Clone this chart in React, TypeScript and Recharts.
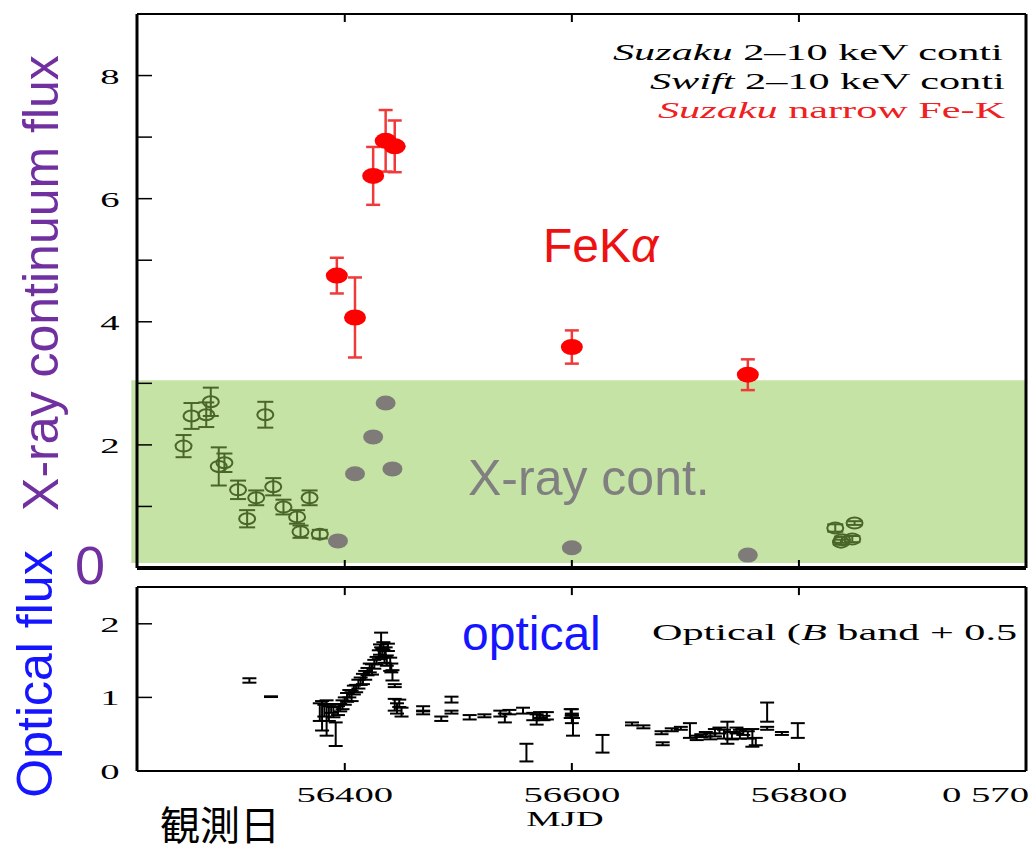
import React from 'react';
import {
  ScatterChart,
  Scatter,
  XAxis,
  YAxis,
  ErrorBar,
  ReferenceArea,
  ReferenceLine,
} from 'recharts';

// time axis (MJD)
const MJD_MIN = 56217;
const MJD_MAX = 57000;
const mjdTicks = [56400, 56600, 56800];

// X-ray panel y axis
const xrayTicks = [1, 2, 3, 4, 5, 6, 7, 8];
const xrayLabels = [2, 4, 6, 8];
// optical panel y axis
const opticalTicks = [0, 1, 2];

// Suzaku narrow Fe-K alpha line
const feMjd = [56393, 56409, 56425, 56436, 56444, 56600, 56755];
const feFlux = [4.75, 4.07, 6.37, 6.94, 6.85, 3.59, 3.14];
const feErr = [0.29, 0.65, 0.47, 0.5, 0.42, 0.27, 0.25];

// Suzaku 2-10 keV continuum
const suzakuMjd = [56394, 56409, 56425, 56436, 56442, 56600, 56755];
const suzakuFlux = [0.44, 1.53, 2.13, 2.68, 1.61, 0.33, 0.21];

// Swift 2-10 keV continuum
const swiftMjd = [
  56258, 56265, 56278, 56282, 56289, 56294, 56306, 56314, 56322, 56330, 56337,
  56346, 56358, 56361, 56369, 56378, 56832, 56837, 56838, 56847, 56849,
];
const swiftFlux = [
  1.98, 2.47, 2.49, 2.7, 1.65, 1.71, 1.27, 0.8, 1.14, 2.49, 1.32, 0.99, 0.83,
  0.59, 1.14, 0.55, 0.65, 0.42, 0.46, 0.47, 0.73,
];
const swiftErr = [
  0.18, 0.21, 0.2, 0.23, 0.31, 0.15, 0.15, 0.14, 0.12, 0.21, 0.14, 0.12, 0.11,
  0.1, 0.12, 0.07, 0.06, 0.04, 0.05, 0.05, 0.03,
];

// optical B band (+0.5)
const opticalMjd = [
  56316, 56335, 56378, 56380, 56382, 56384, 56386, 56388, 56390, 56392, 56394,
  56396, 56398, 56400, 56402, 56404, 56406, 56408, 56410, 56412, 56414, 56416,
  56418, 56420, 56422, 56424, 56426, 56428, 56430, 56431, 56432, 56433, 56434,
  56435, 56436, 56437, 56438, 56440, 56441, 56442, 56444, 56444, 56446, 56448,
  56450, 56469, 56469, 56485, 56494, 56494, 56510, 56523, 56537, 56541, 56545,
  56557, 56560, 56566, 56569, 56572, 56575, 56578, 56599, 56600, 56600, 56601,
  56600, 56627, 56653, 56663, 56679, 56680, 56688, 56696, 56704, 56710, 56714,
  56718, 56722, 56726, 56730, 56734, 56737, 56741, 56745, 56748, 56751, 56755,
  56759, 56762, 56772, 56772, 56785, 56799,
];
const opticalFlux = [
  1.23, 1.01, 0.8, 0.75, 0.82, 0.72, 0.78, 0.85, 0.8, 0.5, 0.82,
  0.86, 0.9, 0.95, 1.0, 1.05, 1.02, 1.1, 1.12, 1.18, 1.22, 1.25,
  1.3, 1.35, 1.4, 1.38, 1.45, 1.5, 1.58, 1.65, 1.78, 1.6, 1.7,
  1.55, 1.62, 1.5, 1.68, 1.45, 1.4, 1.3, 1.16, 0.9, 0.85, 0.92,
  0.8, 0.85, 0.79, 0.71, 0.97, 0.8, 0.73, 0.75, 0.78, 0.72, 0.8,
  0.82, 0.25, 0.74, 0.7, 0.76, 0.72, 0.75, 0.78, 0.8, 0.7, 0.6,
  0.75, 0.37, 0.64, 0.6, 0.52, 0.37, 0.56, 0.58, 0.55, 0.45, 0.48,
  0.5, 0.47, 0.52, 0.55, 0.5, 0.52, 0.48, 0.55, 0.5, 0.53, 0.49,
  0.45, 0.4, 0.8, 0.58, 0.51, 0.55,
];
const opticalErr = [
  0.03, 0.005, 0.12, 0.2, 0.08, 0.24, 0.1, 0.06, 0.07, 0.16, 0.06,
  0.05, 0.06, 0.05, 0.06, 0.05, 0.07, 0.06, 0.05, 0.06, 0.05, 0.07,
  0.06, 0.05, 0.06, 0.07, 0.06, 0.05, 0.06, 0.07, 0.1, 0.06, 0.05,
  0.08, 0.06, 0.07, 0.05, 0.09, 0.06, 0.07, 0.02, 0.08, 0.07, 0.05,
  0.06, 0.03, 0.02, 0.03, 0.04, 0.02, 0.03, 0.02, 0.04, 0.06, 0.03,
  0.04, 0.12, 0.05, 0.07, 0.04, 0.03, 0.05, 0.06, 0.04, 0.05, 0.12,
  0.03, 0.12, 0.02, 0.02, 0.02, 0.02, 0.02, 0.02, 0.1, 0.03, 0.02,
  0.03, 0.04, 0.05, 0.04, 0.06, 0.15, 0.05, 0.04, 0.06, 0.04, 0.05,
  0.12, 0.05, 0.13, 0.02, 0.02, 0.1,
];

const feData = feMjd.map((m, i) => ({ mjd: m, flux: feFlux[i], err: feErr[i] }));
const suzakuData = suzakuMjd.map((m, i) => ({ mjd: m, flux: suzakuFlux[i] }));
const swiftData = swiftMjd.map((m, i) => ({ mjd: m, flux: swiftFlux[i], err: swiftErr[i] }));
const opticalData = opticalMjd.map((m, i) => ({ mjd: m, flux: opticalFlux[i], err: opticalErr[i] }));

const SERIF = "'Liberation Serif', 'DejaVu Serif', serif";
const SANS = "'Liberation Sans', Arial, sans-serif";
const SX = 1.76; // the serif lettering is drawn wide
const GAP = 20; // tickMargin used to place the custom ticks

const SerifText = ({ x, y, size, anchor = 'middle', fill = '#000', children }: any) => (
  <text
    transform={`translate(${x} ${y}) scale(${SX} 1)`}
    textAnchor={anchor}
    fontFamily={SERIF}
    fontSize={size}
    fill={fill}
  >
    {children}
  </text>
);

// inward tick on the left axis, label outside
const leftTick = (labels: number[]) => (p: any) => {
  const v = p.payload.value;
  const ax = p.x + GAP;
  return (
    <g>
      <line x1={ax} x2={ax + 15} y1={p.y} y2={p.y} stroke="#000" strokeWidth={1.5} />
      {labels.includes(v) && (
        <SerifText x={ax - 27} y={p.y + 8} size={22}>
          {v}
        </SerifText>
      )}
    </g>
  );
};

// inward tick on the bottom axis
const bottomTick = (withLabel: boolean) => (p: any) => {
  const ay = p.y - GAP;
  return (
    <g>
      <line x1={p.x} x2={p.x} y1={ay} y2={ay - 8} stroke="#000" strokeWidth={2} />
      {withLabel && (
        <SerifText x={p.x} y={ay + 31} size={22}>
          {p.payload.value}
        </SerifText>
      )}
    </g>
  );
};

const redDot = (p: any) => <ellipse cx={p.cx} cy={p.cy} rx={11} ry={8} fill="#ff0000" />;
const grayDot = (p: any) => <ellipse cx={p.cx} cy={p.cy} rx={10} ry={7.5} fill="#7e7b78" />;
const openDot = (p: any) => (
  <ellipse cx={p.cx} cy={p.cy} rx={8} ry={5.5} fill="none" stroke="#4a6628" strokeWidth={2} />
);
const noDot = () => <g />;

const XrayPanel = () => (
  <ScatterChart width={1030} height={580} margin={{ top: 14, right: 4, bottom: 2, left: 77 }}>
    <XAxis
      type="number"
      dataKey="mjd"
      domain={[MJD_MIN, MJD_MAX]}
      allowDataOverflow
      ticks={mjdTicks}
      interval={0}
      height={10}
      tickSize={0}
      tickMargin={GAP}
      tickLine={false}
      axisLine={{ stroke: '#000', strokeWidth: 4 }}
      tick={bottomTick(false)}
    />
    <YAxis
      type="number"
      dataKey="flux"
      domain={[0, 9]}
      allowDataOverflow
      ticks={xrayTicks}
      interval={0}
      width={60}
      tickSize={0}
      tickMargin={GAP}
      tickLine={false}
      axisLine={{ stroke: '#000', strokeWidth: 3 }}
      tick={leftTick(xrayLabels)}
    />
    <ReferenceLine y={9} stroke="#000" strokeWidth={2} />
    <ReferenceLine x={MJD_MAX} stroke="#000" strokeWidth={3} />
    {mjdTicks.map((t) => (
      <ReferenceLine key={t} segment={[{ x: t, y: 9 }, { x: t, y: 8.87 }]} stroke="#000" strokeWidth={2} />
    ))}
    <Scatter data={swiftData} shape={openDot} isAnimationActive={false}>
      <ErrorBar dataKey="err" direction="y" width={8} stroke="#4a6628" strokeWidth={2} />
    </Scatter>
    <Scatter data={feData} shape={redDot} isAnimationActive={false}>
      <ErrorBar dataKey="err" direction="y" width={7} stroke="#f03a3a" strokeWidth={2.5} />
    </Scatter>
    <ReferenceArea
      x1={56212}
      x2={MJD_MAX}
      y1={0.08}
      y2={3.05}
      ifOverflow="visible"
      fill="#91ca55"
      fillOpacity={0.53}
      stroke="none"
    />
    <Scatter data={suzakuData} shape={grayDot} isAnimationActive={false} />
  </ScatterChart>
);

const OpticalPanel = () => (
  <ScatterChart width={1030} height={281} margin={{ top: 17, right: 4, bottom: 40, left: 77 }}>
    <XAxis
      type="number"
      dataKey="mjd"
      domain={[MJD_MIN, MJD_MAX]}
      allowDataOverflow
      ticks={mjdTicks}
      interval={0}
      height={40}
      tickSize={0}
      tickMargin={GAP}
      tickLine={false}
      axisLine={{ stroke: '#000', strokeWidth: 2 }}
      tick={bottomTick(true)}
    />
    <YAxis
      type="number"
      dataKey="flux"
      domain={[0, 2.5]}
      allowDataOverflow
      ticks={opticalTicks}
      interval={0}
      width={60}
      tickSize={0}
      tickMargin={GAP}
      tickLine={false}
      axisLine={{ stroke: '#000', strokeWidth: 3 }}
      tick={leftTick(opticalTicks)}
    />
    <ReferenceLine y={2.5} stroke="#000" strokeWidth={2} />
    <ReferenceLine x={MJD_MAX} stroke="#000" strokeWidth={3} />
    {mjdTicks.map((t) => (
      <ReferenceLine key={t} segment={[{ x: t, y: 2.5 }, { x: t, y: 2.39 }]} stroke="#000" strokeWidth={2} />
    ))}
    <Scatter data={opticalData} shape={noDot} isAnimationActive={false}>
      <ErrorBar dataKey="err" direction="y" width={7} stroke="#000" strokeWidth={2} />
    </Scatter>
  </ScatterChart>
);

export default function App() {
  return (
    <div
      style={{
        position: 'absolute',
        left: 0,
        top: 0,
        width: 1030,
        height: 851,
        background: '#fff',
        overflow: 'hidden',
      }}
    >
      <div style={{ position: 'absolute', left: 0, top: 0 }}>
        <XrayPanel />
      </div>
      <div style={{ position: 'absolute', left: 0, top: 570 }}>
        <OpticalPanel />
      </div>
      <svg
        width={1030}
        height={851}
        style={{ position: 'absolute', left: 0, top: 0, pointerEvents: 'none' }}
      >
        <defs>
          <clipPath id="plot-clip">
            <rect x={0} y={0} width={1024} height={851} />
          </clipPath>
        </defs>
        {/* key entries run past the right edge of the frame */}
        <g clipPath="url(#plot-clip)">
          <SerifText x={613} y={60} size={24} anchor="start">
            <tspan fontStyle="italic">Suzaku</tspan> 2–10 keV conti
          </SerifText>
          <SerifText x={650} y={89} size={24} anchor="start">
            <tspan fontStyle="italic">Swift</tspan> 2–10 keV conti
          </SerifText>
          <SerifText x={658} y={118} size={24} anchor="start" fill="#f02020">
            <tspan fontStyle="italic">Suzaku</tspan> narrow Fe-K
          </SerifText>
          <SerifText x={652} y={640} size={24} anchor="start">
            Optical (<tspan fontStyle="italic">B</tspan> band + 0.5
          </SerifText>
        </g>
        <SerifText x={942} y={802} size={22} anchor="start">
          0 570
        </SerifText>
        <SerifText x={565} y={826} size={22}>
          MJD
        </SerifText>

        <text x={543} y={262} fontFamily={SANS} fontSize={48} fill="#ee1111">
          FeK<tspan fontStyle="italic">α</tspan>
        </text>
        <text x={468} y={495} fontFamily={SANS} fontSize={50} fill="#808080">
          X-ray cont.
        </text>
        <text x={462} y={650} fontFamily={SANS} fontSize={48} fill="#1515ff">
          optical
        </text>

        <text
          transform="translate(58 283) rotate(-90)"
          textAnchor="middle"
          fontFamily={SANS}
          fontSize={50}
          fill="#7030a0"
        >
          X-ray continuum flux
        </text>
        <text
          transform="translate(52 674) rotate(-90)"
          textAnchor="middle"
          fontFamily={SANS}
          fontSize={50}
          fill="#1515ff"
        >
          Optical flux
        </text>
        <text x={90} y={584} textAnchor="middle" fontFamily={SANS} fontSize={54} fill="#7030a0">
          0
        </text>
        <text
          x={220}
          y={840}
          textAnchor="middle"
          fontFamily="'Noto Sans CJK JP', sans-serif"
          fontSize={40}
          fill="#000"
        >
          観測日
        </text>
      </svg>
    </div>
  );
}
